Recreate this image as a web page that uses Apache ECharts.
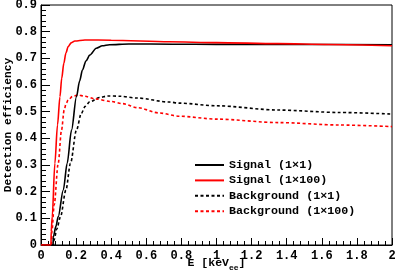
<!DOCTYPE html>
<html>
<head>
<meta charset="utf-8">
<script src="https://cdn.jsdelivr.net/npm/echarts@6/dist/echarts.min.js"></script>
<style>
html,body{margin:0;padding:0;background:#fff;}
#chart{width:399px;height:274px;}
</style>
</head>
<body>
<div id="chart"></div>
<script>
const seriesNames = ['Signal (1\u00d71)', 'Signal (1\u00d7100)', 'Background (1\u00d71)', 'Background (1\u00d7100)'];

const signal1x1 = [[0,0],[0.069,0],[0.070,0.03],[0.085,0.07],[0.098,0.106],[0.127,0.206],[0.149,0.306],[0.174,0.431],[0.202,0.556],[0.22,0.615],[0.236,0.656],[0.256,0.69],[0.278,0.712],[0.315,0.738],[0.35,0.747],[0.39,0.751],[0.5,0.754],[0.75,0.753],[1.0,0.7525],[1.5,0.752],[2.0,0.751]];
const signal1x100 = [[0,0],[0.057,0],[0.058,0.05],[0.064,0.106],[0.079,0.306],[0.094,0.45],[0.108,0.556],[0.118,0.625],[0.13,0.681],[0.142,0.72],[0.155,0.744],[0.172,0.758],[0.193,0.765],[0.25,0.769],[0.4,0.768],[0.73,0.762],[1.0,0.759],[1.35,0.755],[1.64,0.752],[2.0,0.747]];
const bkg1x1 = [[0,0],[0.072,0],[0.075,0.02],[0.09,0.06],[0.111,0.106],[0.142,0.206],[0.168,0.306],[0.202,0.431],[0.23,0.494],[0.252,0.52],[0.278,0.537],[0.334,0.553],[0.38,0.559],[0.45,0.558],[0.55,0.551],[0.73,0.536],[0.788,0.532],[1.0,0.522],[1.354,0.506],[1.7,0.497],[2.0,0.491]];
const bkg1x100 = [[0,0],[0.06,0],[0.062,0.05],[0.075,0.15],[0.098,0.306],[0.117,0.431],[0.132,0.506],[0.143,0.53],[0.155,0.544],[0.18,0.557],[0.211,0.5625],[0.25,0.558],[0.306,0.548],[0.4,0.538],[0.466,0.53],[0.55,0.515],[0.674,0.495],[0.788,0.483],[1.0,0.472],[1.354,0.459],[1.7,0.45],[2.0,0.444]];

const xTicks = [0,0.2,0.4,0.6,0.8,1,1.2,1.4,1.6,1.8,2];
const yTicks = [0,0.1,0.2,0.3,0.4,0.5,0.6,0.7,0.8,0.9];

const FONT = '"Liberation Mono", "DejaVu Sans Mono", monospace';
const chart = echarts.init(document.getElementById('chart'), null, {renderer:'canvas'});

function mk(name, data, color, dashed) {
  return {
    name: name, type: 'line', data: data, showSymbol: false, symbol: 'none',
    smooth: 0.3, smoothMonotone: 'x',
    lineStyle: {color: color, width: 1.6, type: dashed ? [3, 2.5] : 'solid'},
    itemStyle: {color: color},
    animation: false
  };
}

chart.setOption({
  animation: false,
  backgroundColor: '#fff',
  grid: {left: 41, right: 7, top: 5, bottom: 29, show: true, borderColor: '#000', borderWidth: 1, containLabel: false, outerBoundsMode: 'none'},
  legend: {
    orient: 'vertical', left: 194, top: 159, padding: 0,
    itemWidth: 29, itemHeight: 10, itemGap: 3.4,
    data: seriesNames,
    itemStyle: {opacity: 0},
    textStyle: {fontFamily: FONT, fontWeight: 'bold', fontSize: 11.7, color: '#000'}
  },
  xAxis: {
    type: 'value', min: 0, max: 2, interval: 0.2,
    axisLine: {show: true, lineStyle: {color: '#000', width: 1}},
    axisTick: {inside: true, length: 7, lineStyle: {color: '#000'}},
    minorTick: {show: true, splitNumber: 5, length: 4, lineStyle: {color: '#000'}},
    splitLine: {show: false},
    axisLabel: {
      margin: 5, fontFamily: FONT, fontWeight: 'bold', fontSize: 12, color: '#000',
      formatter: function(v){ const t = xTicks.find(a => Math.abs(a - v) < 1e-6); return t === undefined ? '' : String(t); }
    },
    name: '{a|E [keV}{s|ee}{a|]}', nameLocation: 'middle', nameGap: 12, nameMoveOverlap: false,
    nameTextStyle: {
      rich: {
        a: {fontFamily: FONT, fontWeight: 'bold', fontSize: 11.5, color: '#000', verticalAlign: 'top'},
        s: {fontFamily: FONT, fontWeight: 'bold', fontSize: 8, color: '#000', verticalAlign: 'top', padding: [7, 0, 0, 0]}
      }
    }
  },
  yAxis: {
    type: 'value', min: 0, max: 0.9, interval: 0.1,
    axisLine: {show: true, lineStyle: {color: '#000', width: 1}},
    axisTick: {inside: true, length: 9, lineStyle: {color: '#000'}},
    minorTick: {show: true, splitNumber: 5, length: 5, lineStyle: {color: '#000'}},
    splitLine: {show: false},
    axisLabel: {
      margin: 4, fontFamily: FONT, fontWeight: 'bold', fontSize: 12, color: '#000',
      formatter: function(v){ const t = yTicks.find(a => Math.abs(a - v) < 1e-6); return t === undefined ? '' : String(t); }
    },
    name: 'Detection efficiency', nameLocation: 'middle', nameGap: 27, nameMoveOverlap: false,
    nameTextStyle: {fontFamily: FONT, fontWeight: 'bold', fontSize: 11.2, color: '#000'}
  },
  series: [
    mk(seriesNames[2], bkg1x1, '#000000', true),
    mk(seriesNames[3], bkg1x100, '#ff0000', true),
    mk(seriesNames[0], signal1x1, '#000000', false),
    mk(seriesNames[1], signal1x100, '#ff0000', false)
  ]
});
</script>
</body>
</html>
